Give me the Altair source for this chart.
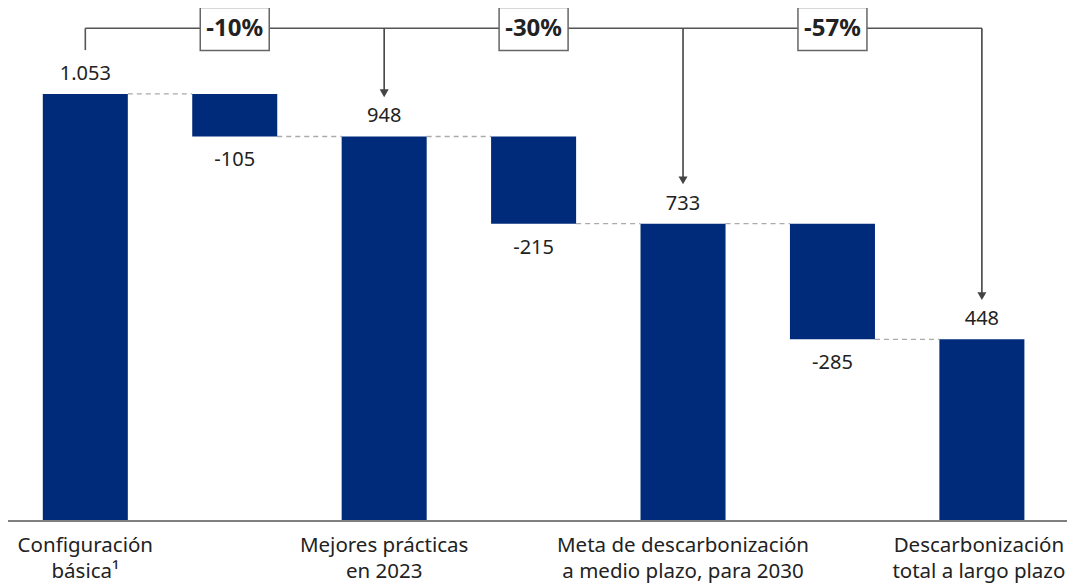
import altair as alt
import pandas as pd

# ---- data ----
steps = ["base", "d1", "best", "d2", "mid", "d3", "total"]
kinds = ["total", "delta", "total", "delta", "total", "delta", "total"]
values = [1053, -105, 948, -215, 733, -285, 448]
value_labels = ["1.053", "-105", "948", "-215", "733", "-285", "448"]
category_labels = [
    "Configuración\nbásica¹", "",
    "Mejores prácticas\nen 2023", "",
    "Meta de descarbonización\na medio plazo, para 2030", "",
    "Descarbonización\ntotal a largo plazo",
]
pct_steps = ["d1", "d2", "d3"]
pct_labels = ["-10%", "-30%", "-57%"]
bracket_from = "base"
arrow_targets = ["best", "mid", "total"]

# ---- derived table ----
starts, ends = [], []
prev = 0
for k, v in zip(kinds, values):
    if k == "total":
        s, e = 0, v
    else:
        s, e = prev, prev + v
    starts.append(s)
    ends.append(e)
    prev = e

df = pd.DataFrame({
    "step": steps, "kind": kinds, "value": values, "start": starts, "end": ends,
    "vlabel": value_labels, "clabel": category_labels,
})

conn = pd.DataFrame({
    "from": steps[:-1], "to": steps[1:], "level": ends[:-1],
})

# annotation levels (data units)
BRACKET_Y = 1215
TICK_END = 1161
BOX_LO, BOX_HI = 1160, 1266
ARROW_GAP = 97
HEAD = 9.6

end_by_step = dict(zip(steps, ends))
arrows = pd.DataFrame({
    "step": arrow_targets,
    "top": [BRACKET_Y] * len(arrow_targets),
    "tip": [end_by_step[s] + ARROW_GAP for s in arrow_targets],
})
arrows["head"] = arrows["tip"] + HEAD

hline = pd.DataFrame({"a": [bracket_from], "b": [arrow_targets[-1]], "y": [BRACKET_Y]})
tick = pd.DataFrame({"step": [bracket_from], "y": [BRACKET_Y], "y2": [TICK_END]})
pct = pd.DataFrame({"step": pct_steps, "label": pct_labels,
                    "lo": [BOX_LO] * 3, "hi": [BOX_HI] * 3, "mid": [BRACKET_Y] * 3})

x_scale = alt.Scale(domain=steps, paddingInner=0.431, paddingOuter=0.2155)
y_scale = alt.Scale(domain=[0, 1250], nice=False, zero=True)

FONT = "Noto Sans"
BAR = "#002a7a"
TXT = "#222222"
LINE = "#555555"

def X(field, **kw):
    return alt.X(field, type="nominal", scale=x_scale, axis=None, **kw)

def Y(field):
    return alt.Y(field, type="quantitative", scale=y_scale, axis=None)

connectors = alt.Chart(conn).mark_rule(color="#aaaaaa", strokeDash=[5, 4], strokeWidth=1.3).encode(
    x=X("from", bandPosition=1),
    x2=alt.X2("to", bandPosition=0),
    y=Y("level"),
)

bars = alt.Chart(df).mark_bar(color=BAR).encode(
    x=X("step"),
    y=Y("start"),
    y2="end",
)

tot_labels = alt.Chart(df).transform_filter("datum.kind == 'total'").mark_text(
    font=FONT, fontSize=20, color=TXT, baseline="alphabetic", dy=-14
).encode(x=X("step"), y=Y("end"), text="vlabel")

del_labels = alt.Chart(df).transform_filter("datum.kind == 'delta'").mark_text(
    font=FONT, fontSize=20, color=TXT, baseline="alphabetic", dy=30
).encode(x=X("step"), y=Y("end"), text="vlabel")

def cat_layer(filter_expr, dx):
    return alt.Chart(df).transform_filter(filter_expr).transform_calculate(
        zero="0"
    ).mark_text(
        font=FONT, fontSize=20.5, color=TXT, baseline="alphabetic", dy=31, dx=dx,
        lineBreak="\n", lineHeight=25.5
    ).encode(x=X("step"), y=alt.Y("zero:Q", scale=y_scale, axis=None), text="clabel")

cat_labels = cat_layer("datum.kind == 'total' && datum.step != 'total'", 0)
cat_last = cat_layer("datum.step == 'total'", -3)

baseline = alt.Chart(df).transform_filter("datum.step == 'base'").transform_calculate(
    zero="0"
).mark_rule(color="#808080", strokeWidth=2).encode(
    x=alt.value(-3), x2=alt.value(1057), y=alt.Y("zero:Q", scale=y_scale, axis=None)
)

hrule = alt.Chart(hline).mark_rule(color=LINE, strokeWidth=1.6).encode(
    x=X("a", bandPosition=0.5), x2=alt.X2("b", bandPosition=0.5), y=Y("y"),
)

tick_rule = alt.Chart(tick).mark_rule(color=LINE, strokeWidth=1.6).encode(
    x=X("step", bandPosition=0.5), y=Y("y"), y2="y2",
)

arrow_lines = alt.Chart(arrows).mark_rule(color="#444444", strokeWidth=1.6).encode(
    x=X("step", bandPosition=0.5), y=Y("top"), y2="head",
)

arrow_heads = alt.Chart(arrows).mark_point(
    shape="triangle-down", filled=True, size=81, color="#444444", opacity=1
).encode(x=X("step", bandPosition=0.5), y=Y("head"))

boxes = alt.Chart(pct).mark_bar(width=69, fill="white", stroke="#666666", strokeWidth=1.5).encode(
    x=X("step"), y=Y("lo"), y2="hi",
)

pct_text = alt.Chart(pct).mark_text(
    font=FONT, fontSize=24, fontWeight="bold", color=TXT, baseline="middle", dy=1
).encode(x=X("step"), y=Y("mid"), text="label")

chart = alt.layer(
    connectors, bars, tot_labels, del_labels, cat_labels, cat_last, baseline,
    hrule, tick_rule, arrow_lines, arrow_heads, boxes, pct_text,
).properties(
    width=1046, height=507,
    padding={"left": 2.6, "top": 6, "right": 10.4, "bottom": 65},
    autosize=alt.AutoSizeParams(type="none"),
).configure(font=FONT, background="white").configure_view(stroke=None)

chart.save("out.html", embed_options={"renderer": "svg", "actions": False})
